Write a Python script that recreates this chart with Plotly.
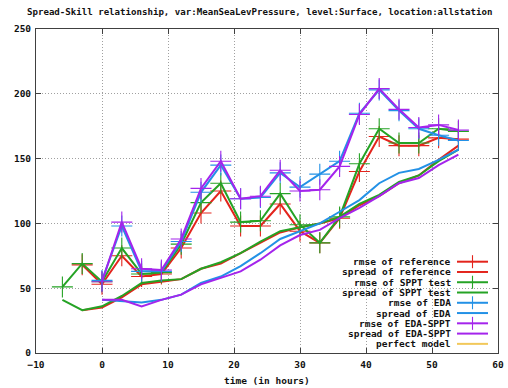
import plotly.graph_objects as go

# ---------------- data ----------------
t_all = [-6, -3, 0, 3, 6, 9, 12, 15, 18, 21, 24, 27, 30, 33, 36, 39, 42, 45, 48, 51, 54]
t_ref = t_all[1:]
t_eda = t_all[2:]

rmse_ref = [68, 53, 75, 59, 61, 81, 108, 125, 98, 98, 115, 94, 85, 104, 140, 167, 160, 160, 166, 165]
spread_ref = [33, 35, 43, 53, 55, 57, 65, 69, 77, 85, 93, 97, 100, 104, 114, 121, 131, 137, 149, 160]

rmse_sppt = [51, 69, 55, 81, 61, 62, 84, 116, 131, 101, 102, 123, 99, 85, 105, 146, 173, 162, 162, 173, 171]
spread_sppt = [41, 33, 36, 44, 54, 56, 57, 65, 70, 77, 86, 94, 97, 100, 105, 115, 122, 132, 137, 148, 157]

rmse_eda = [56, 98, 63, 63, 86, 124, 145, 119, 120, 139, 128, 138, 148, 185, 203, 187, 173, 168, 164]
spread_eda = [41, 40, 39, 41, 45, 54, 59, 67, 77, 88, 94, 100, 109, 118, 131, 139, 142, 149, 157]

rmse_edasppt = [55, 101, 65, 64, 88, 127, 148, 119, 121, 141, 125, 126, 144, 184, 204, 188, 174, 176, 172]
spread_edasppt = [41, 41, 36, 41, 45, 53, 58, 63, 72, 83, 91, 95, 104, 112, 121, 131, 135, 145, 153]

legend_labels = ["rmse of reference", "spread of reference", "rmse of SPPT test",
                 "spread of SPPT test", "rmse of EDA", "spread of EDA",
                 "rmse of EDA-SPPT", "spread of EDA-SPPT", "perfect model"]

title_text = "Spread-Skill relationship, var:MeanSeaLevPressure, level:Surface, location:allstation"
xaxis_title = "time (in hours)"

RED, GREEN, BLUE, PURPLE, YELLOW = "#e3241c", "#25a325", "#2391e6", "#a424ec", "#f2c85a"

series = [
    (t_ref, rmse_ref, RED, True),
    (t_ref, spread_ref, RED, False),
    (t_all, rmse_sppt, GREEN, True),
    (t_all, spread_sppt, GREEN, False),
    (t_eda, rmse_eda, BLUE, True),
    (t_eda, spread_eda, BLUE, False),
    (t_eda, rmse_edasppt, PURPLE, True),
    (t_eda, spread_edasppt, PURPLE, False),
]

FONT = "DejaVu Sans Mono"

fig = go.Figure()
for (x, y, c, mk), name in zip(series, legend_labels):
    fig.add_trace(go.Scatter(
        x=x, y=y, name=name, showlegend=False,
        mode="lines+markers" if mk else "lines",
        line=dict(color=c, width=2),
        marker=dict(symbol="cross-thin", size=15, line=dict(color=c, width=1.1)),
    ))

# ---------------- layout geometry (pixels) ----------------
W, H = 508, 388
L, R, T, B = 36, 498, 29, 353

def px(xp):
    return (xp - L) / (R - L)

def py(yp):
    return (B - yp) / (B - T)

shapes = []
annotations = []
colors = [RED, RED, GREEN, GREEN, BLUE, BLUE, PURPLE, PURPLE, YELLOW]
crosses = [True, False, True, False, True, False, True, False, False]
for i, (lab, c, cr) in enumerate(zip(legend_labels, colors, crosses)):
    yy = 261.7 + i * 10.27
    annotations.append(dict(
        x=px(452.5), y=py(yy), xref="paper", yref="paper",
        xanchor="right", yanchor="middle", showarrow=False,
        text="<b>%s</b>" % lab, font=dict(family=FONT, size=9.5, color="#111111"),
    ))
    shapes.append(dict(type="line", xref="paper", yref="paper",
                       x0=px(457), x1=px(488), y0=py(yy), y1=py(yy),
                       line=dict(color=c, width=2)))
    if cr:
        shapes.append(dict(type="line", xref="paper", yref="paper",
                           x0=px(472.5), x1=px(472.5), y0=py(yy - 6.5), y1=py(yy + 6.5),
                           line=dict(color=c, width=1.1)))

# title (left edge at 25 px, as in the reference)
annotations.append(dict(
    x=px(25), y=py(12), xref="paper", yref="paper",
    xanchor="left", yanchor="middle", showarrow=False,
    text="<b>%s</b>" % title_text, font=dict(family=FONT, size=9.1, color="#111111"),
))
# x-axis title
annotations.append(dict(
    x=px(267), y=py(380), xref="paper", yref="paper",
    xanchor="center", yanchor="middle", showarrow=False,
    text="<b>%s</b>" % xaxis_title, font=dict(family=FONT, size=9.5, color="#111111"),
))

axis_common = dict(
    showline=True, linecolor="#404040", linewidth=1, mirror="ticks",
    ticks="inside", ticklen=5, tickcolor="#404040",
    showgrid=True, gridcolor="#a0a0a0", griddash="1px,2px", gridwidth=1,
    zeroline=False, automargin=False,
    tickfont=dict(family=FONT, size=9.5, color="#111111", weight="bold"),
)

fig.update_layout(
    width=W, height=H,
    margin=dict(l=L, r=W - R, t=T, b=H - B, autoexpand=False),
    paper_bgcolor="white", plot_bgcolor="white",
    showlegend=False,
    xaxis=dict(range=[-10, 60], dtick=10, tick0=0, ticklabelstandoff=3, **axis_common),
    yaxis=dict(range=[0, 250], dtick=50, tick0=0, ticklabelstandoff=2, **axis_common),
    shapes=shapes,
    annotations=annotations,
)

fig.write_html("out.html", config={"displayModeBar": False},
               post_script="document.body.style.margin='0px';document.body.style.overflow='hidden';")
